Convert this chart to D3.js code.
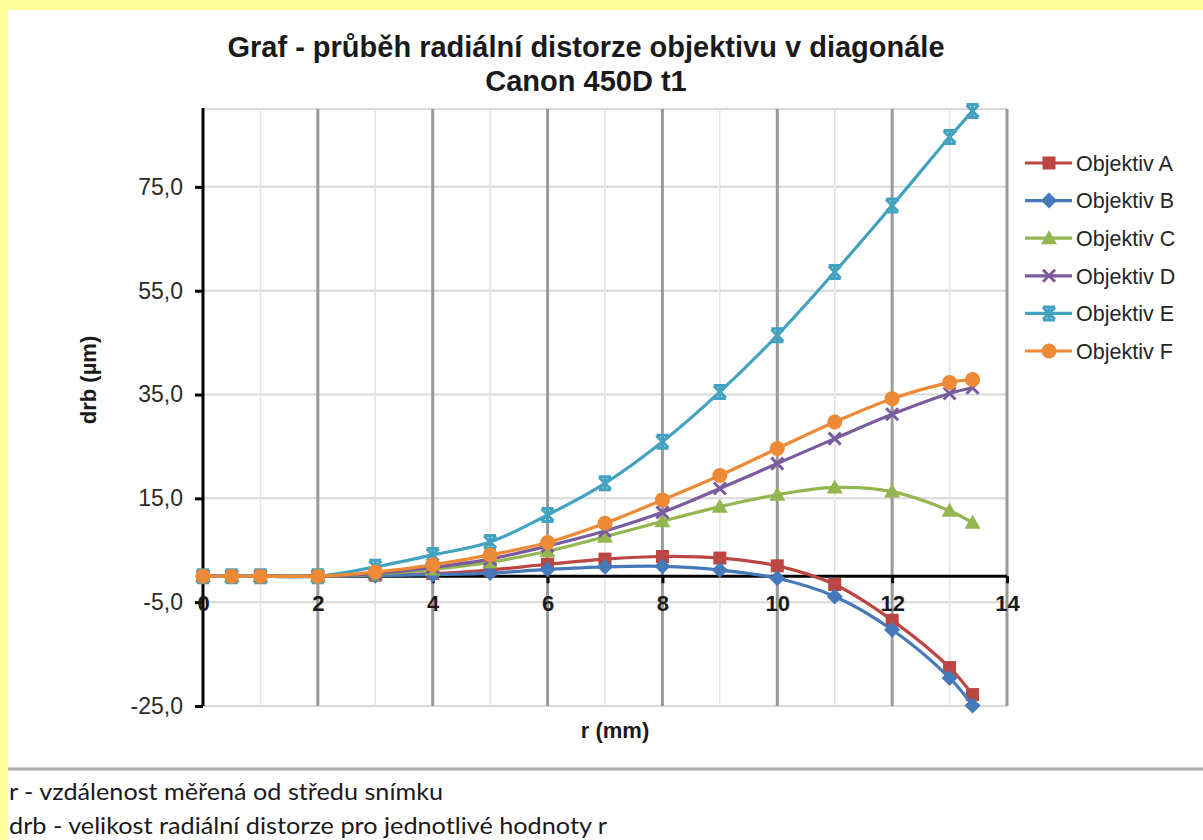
<!DOCTYPE html>
<html>
<head>
<meta charset="utf-8">
<script src="https://cdn.jsdelivr.net/npm/d3@7"></script>
<style>
  body { margin: 0; background: #ffff9c; }
  svg { display: block; }
</style>
</head>
<body>
<svg id="chart" width="1203" height="840"></svg>
<script>
// data
var rValues = [0, 0.5, 1, 2, 3, 4, 5, 6, 7, 8, 9, 10, 11, 12, 13, 13.4];
var seriesNames = ["Objektiv A", "Objektiv B", "Objektiv C", "Objektiv D", "Objektiv E", "Objektiv F"];
var objektivA = [0, 0, 0, 0, 0.2, 0.5, 1.2, 2.3, 3.3, 3.8, 3.5, 2.0, -1.6, -8.5, -17.6, -22.8];
var objektivB = [0, 0, 0, 0, 0.1, 0.3, 0.6, 1.3, 1.8, 1.9, 1.2, -0.4, -3.9, -10.3, -19.6, -24.9];
var objektivC = [0, 0, 0, 0, 0.4, 1.3, 2.7, 4.8, 7.6, 10.6, 13.4, 15.7, 17.1, 16.3, 12.6, 10.3];
var objektivD = [0, 0, 0, 0, 0.5, 1.7, 3.3, 5.8, 8.7, 12.3, 16.9, 21.7, 26.5, 31.2, 35.2, 36.3];
var objektivE = [0, 0, 0, 0, 1.8, 4.1, 6.6, 11.8, 17.9, 25.9, 35.5, 46.4, 58.6, 71.4, 84.6, 89.6];
var objektivF = [0, 0, 0, 0, 0.8, 2.2, 4.1, 6.5, 10.2, 14.7, 19.4, 24.6, 29.7, 34.2, 37.3, 37.9];
var yTicks = [-25, -5, 15, 35, 55, 75];
var xTicks = [0, 2, 4, 6, 8, 10, 12, 14];
var xMinorTicks = [1, 3, 5, 7, 9, 11, 13];
var titleLines = ["Graf - průběh radiální distorze objektivu v diagonále", "Canon 450D t1"];
var noteLines = ["r - vzdálenost měřená od středu snímku", "drb -  velikost radiální distorze pro jednotlivé hodnoty r"];

var colors = ["#bb4642", "#4679b9", "#94b650", "#7a5c9e", "#42a2bf", "#ee8a35"];
var shapes = ["square", "diamond", "triangle", "cross", "star", "circle"];
var allValues = [objektivA, objektivB, objektivC, objektivD, objektivE, objektivF];

var series = seriesNames.map(function(name, i) {
  return {
    name: name, color: colors[i], shape: shapes[i],
    points: rValues.map(function(r, j) { return {r: r, v: allValues[i][j]}; })
  };
});

var svg = d3.select("#chart");
var font = "'Liberation Sans', Arial, sans-serif";

// white sheet with yellow border at top and left
svg.append("rect").attr("x", 8).attr("y", 10).attr("width", 1195).attr("height", 830).attr("fill", "#fff");

var plotLeft = 203, plotRight = 1007, plotTop = 109, plotBottom = 706;
var x = d3.scaleLinear().domain([0, 14]).range([plotLeft, plotRight]);
var y = d3.scaleLinear().domain([-25, 90]).range([plotBottom, plotTop]);

// title
svg.append("g").selectAll("text")
  .data(titleLines)
  .enter().append("text")
  .attr("x", 586)
  .attr("y", function(d, i) { return 57 + i * 34; })
  .attr("text-anchor", "middle")
  .style("font-family", font)
  .style("font-size", "29px")
  .style("font-weight", "bold")
  .attr("fill", "#1a1a1a")
  .text(function(d) { return d; });

// grid
var grid = svg.append("g");
grid.selectAll(".hgrid")
  .data(yTicks.concat([90]))
  .enter().append("line")
  .attr("x1", plotLeft).attr("x2", plotRight)
  .attr("y1", function(d) { return y(d); })
  .attr("y2", function(d) { return y(d); })
  .attr("stroke", "#d9d9d9")
  .attr("stroke-width", 2);
grid.selectAll(".minor")
  .data(xMinorTicks)
  .enter().append("line")
  .attr("x1", function(d) { return x(d); })
  .attr("x2", function(d) { return x(d); })
  .attr("y1", plotTop).attr("y2", plotBottom)
  .attr("stroke", "#e3e3e3")
  .attr("stroke-width", 1.5);
grid.selectAll(".major")
  .data(xTicks.slice(1))
  .enter().append("line")
  .attr("x1", function(d) { return x(d); })
  .attr("x2", function(d) { return x(d); })
  .attr("y1", plotTop).attr("y2", plotBottom)
  .attr("stroke", "#9a9a9a")
  .attr("stroke-width", 3);

// y axis
var yAxis = svg.append("g")
  .attr("transform", "translate(" + plotLeft + ",0)")
  .call(d3.axisLeft(y).tickValues(yTicks).tickSize(8).tickPadding(12)
    .tickFormat(function(d) { return d.toFixed(1).replace(".", ","); }));
yAxis.select(".domain").attr("stroke", "#000").attr("stroke-width", 3)
  .attr("d", "M0," + (plotTop - 1) + "V" + plotBottom);
yAxis.selectAll(".tick line").attr("stroke", "#000").attr("stroke-width", 3);
yAxis.selectAll(".tick text")
  .style("font-family", font).style("font-size", "23px").attr("fill", "#2b2b2b");

// x axis crossing at zero
var xAxis = svg.append("g")
  .attr("transform", "translate(0," + y(0) + ")")
  .call(d3.axisBottom(x).tickValues(xTicks).tickSize(7).tickPadding(12)
    .tickFormat(d3.format("d")));
xAxis.select(".domain").attr("stroke", "#000").attr("stroke-width", 3)
  .attr("d", "M" + plotLeft + ",0H" + plotRight);
xAxis.selectAll(".tick line").attr("stroke", "#000").attr("stroke-width", 3);
xAxis.selectAll(".tick text")
  .style("font-family", font).style("font-size", "22px").style("font-weight", "bold")
  .attr("fill", "#1a1a1a");

// axis titles
svg.append("text")
  .attr("x", 615).attr("y", 738)
  .attr("text-anchor", "middle")
  .style("font-family", font).style("font-size", "22px").style("font-weight", "bold")
  .attr("fill", "#1a1a1a")
  .text("r (mm)");
svg.append("text")
  .attr("transform", "translate(96,380) rotate(-90)")
  .attr("text-anchor", "middle")
  .style("font-family", font).style("font-size", "22px").style("font-weight", "bold")
  .attr("fill", "#1a1a1a")
  .text("drb (µm)");

function drawMarker(g, shape, color) {
  if (shape == "square") {
    g.append("rect").attr("x", -6.5).attr("y", -6.5).attr("width", 13).attr("height", 13).attr("fill", color);
  } else if (shape == "diamond") {
    g.append("path").attr("d", "M0,-8L8,0L0,8L-8,0Z").attr("fill", color);
  } else if (shape == "triangle") {
    g.append("path").attr("d", "M0,-8L8,6L-8,6Z").attr("fill", color);
  } else if (shape == "cross") {
    g.append("path").attr("d", "M-6,-6L6,6M6,-6L-6,6").attr("stroke", color).attr("stroke-width", 3);
  } else if (shape == "star") {
    g.append("path").attr("d", "M-6,-6L6,6M6,-6L-6,6M-6,-6.5H6M-6,6.5H6M0,-6V6").attr("stroke", color).attr("stroke-width", 3);
  } else {
    g.append("circle").attr("r", 7.5).attr("fill", color);
  }
}

// series
var line = d3.line()
  .x(function(d) { return x(d.r); })
  .y(function(d) { return y(d.v); })
  .curve(d3.curveCatmullRom.alpha(0.5));

var plot = svg.append("g");
series.forEach(function(s) {
  plot.append("path")
    .datum(s.points)
    .attr("d", line)
    .attr("fill", "none")
    .attr("stroke", s.color)
    .attr("stroke-width", 3.2);
  s.points.forEach(function(p) {
    var g = plot.append("g").attr("transform", "translate(" + x(p.r) + "," + y(p.v) + ")");
    drawMarker(g, s.shape, s.color);
  });
});

// legend
var legend = svg.append("g");
series.forEach(function(s, i) {
  var ly = 163 + i * 37.6;
  legend.append("line")
    .attr("x1", 1025).attr("x2", 1072)
    .attr("y1", ly).attr("y2", ly)
    .attr("stroke", s.color).attr("stroke-width", 3.2);
  drawMarker(legend.append("g").attr("transform", "translate(1049," + ly + ")"), s.shape, s.color);
  legend.append("text")
    .attr("x", 1076).attr("y", ly)
    .attr("dy", "0.36em")
    .style("font-family", font).style("font-size", "21.5px")
    .attr("fill", "#262626")
    .text(s.name);
});

// separator and notes below the chart
svg.append("line")
  .attr("x1", 8).attr("x2", 1203)
  .attr("y1", 769).attr("y2", 769)
  .attr("stroke", "#aaa").attr("stroke-width", 3);
var noteWidths = [434, 598];
svg.append("g").selectAll("text")
  .data(noteLines)
  .enter().append("text")
  .attr("x", 9)
  .attr("y", function(d, i) { return 800 + i * 34; })
  .attr("textLength", function(d, i) { return noteWidths[i]; })
  .attr("lengthAdjust", "spacingAndGlyphs")
  .style("font-family", "Lato, sans-serif")
  .style("font-size", "24px")
  .attr("fill", "#1a1a1a")
  .text(function(d) { return d; });
</script>
</body>
</html>
